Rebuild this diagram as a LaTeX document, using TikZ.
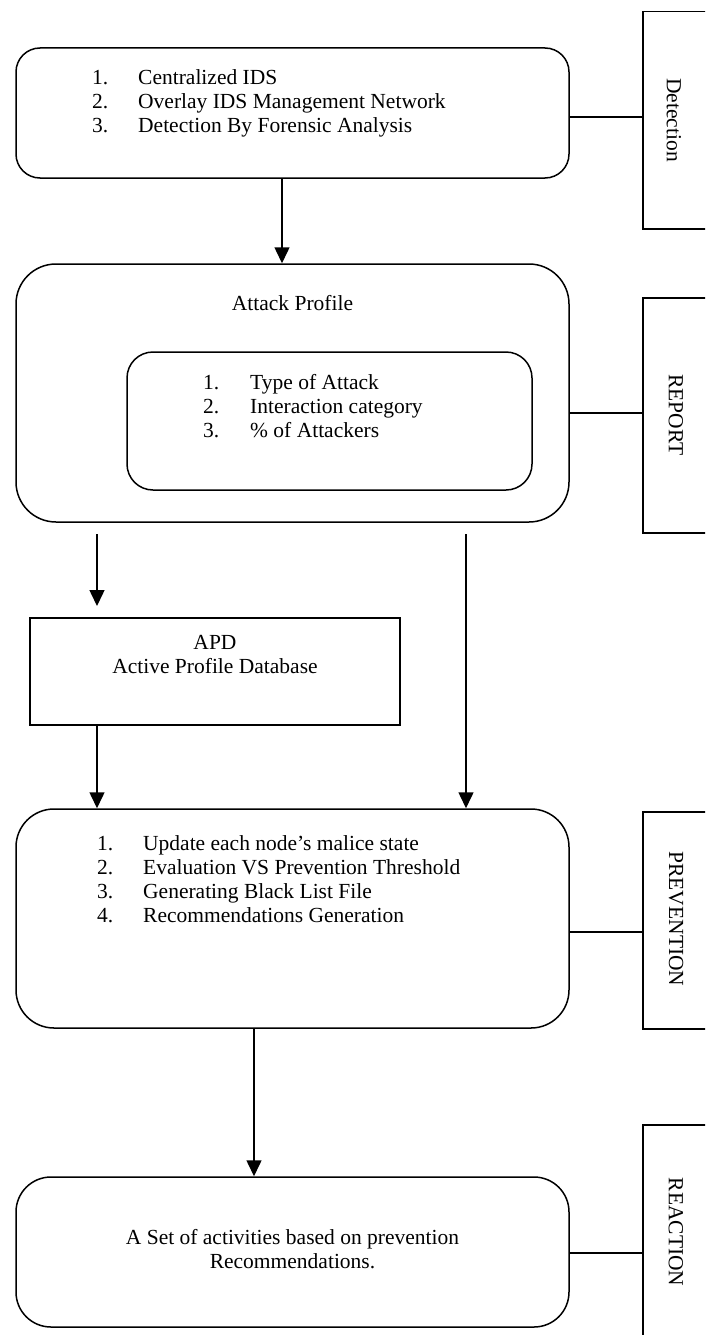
\documentclass[tikz,border=0pt]{standalone}
\usepackage{fontspec}
\setmainfont{Liberation Serif}
\usetikzlibrary{arrows.meta}
\begin{document}
\begin{tikzpicture}[x=1pt,y=-1pt,
  every node/.style={font=\fontsize{21.5}{24}\selectfont},
  rbox/.style={draw,line width=1.5pt,rounded corners=#1,inner sep=0pt},
  sbox/.style={draw,line width=1.5pt,inner sep=0pt,anchor=north west,minimum width=100pt},
  txt/.style={inner sep=0pt},
  link/.style={line width=1.5pt},
  arr/.style={line width=1.5pt,-{Triangle[width=15pt,length=16pt]}}]
\clip (0,0) rectangle (705,1335);
\fill[white] (0,0) rectangle (705,1335);
% main boxes
\node[rbox=24pt,minimum width=553pt,minimum height=130pt] (b1) at (292.5,113) {};
\node[rbox=40pt,minimum width=553pt,minimum height=258pt] (b2) at (292.5,393) {};
\node[rbox=26pt,minimum width=405pt,minimum height=138pt] (b2in) at (329.5,421) {};
\node[draw,line width=1.5pt,inner sep=0pt,minimum width=370pt,minimum height=107pt] (apd) at (215,671.5) {};
\node[rbox=38pt,minimum width=553pt,minimum height=219pt] (b4) at (292.5,918.5) {};
\node[rbox=35pt,minimum width=553pt,minimum height=150pt] (b5) at (292.5,1252) {};
% texts
\node[txt,anchor=west] (t1) at (92,104) {\begin{tabular}{@{}p{46pt}@{}l@{}}1. & Centralized IDS\\ 2. & Overlay IDS Management Network\\ 3. & Detection By Forensic Analysis\end{tabular}};
\node[txt] (t2) at (292.5,303) {Attack Profile};
\node[txt,anchor=west] (t3) at (203,409) {\begin{tabular}{@{}p{47pt}@{}l@{}}1. & Type of Attack\\ 2. & Interaction category\\ 3. & \% of Attackers\end{tabular}};
\node[txt,align=center] (t4) at (215,655) {APD\\Active Profile Database};
\node[txt,anchor=west] (t5) at (97,882) {\begin{tabular}{@{}p{46pt}@{}l@{}}1. & Update each node's malice state\\ 2. & Evaluation VS Prevention Threshold\\ 3. & Generating Black List File\\ 4. & Recommendations Generation\end{tabular}};
\node[txt,align=center] (t6) at (292.5,1249) {A Set of activities based on prevention\\Recommendations.};
% side boxes
\node[sbox,minimum height=217pt] (sd) at (642,11) {};
\node[sbox,minimum height=235pt] (sr) at (642,297) {};
\node[sbox,minimum height=217pt] (sp) at (642,811) {};
\node[sbox,minimum height=240pt] (sx) at (642,1124) {};
\node[txt,rotate=-90] (ld) at (674,120) {Detection};
\node[txt,rotate=-90] (lr) at (676,415) {REPORT};
\node[txt,rotate=-90] (lp) at (676,919) {PREVENTION};
\node[txt,rotate=-90] (lx) at (676,1232) {REACTION};
% side connectors
\coordinate (y1) at (0,117);
\coordinate (y2) at (0,413);
\coordinate (y3) at (0,932);
\coordinate (y4) at (0,1253);
\draw[link] (b1.east |- y1) -- (sd.west |- y1);
\draw[link] (b2.east |- y2) -- (sr.west |- y2);
\draw[link] (b4.east |- y3) -- (sp.west |- y3);
\draw[link] (b5.east |- y4) -- (sx.west |- y4);
% arrows
\coordinate (xa) at (282,0);
\coordinate (xb) at (97,0);
\coordinate (xc) at (466,0);
\coordinate (xd) at (254,0);
\coordinate (s1) at (97,534);
\coordinate (e1) at (97,606);
\coordinate (s2) at (466,534);
\draw[arr] (b1.south -| xa) -- (b2.north -| xa);
\draw[arr] (s1) -- (e1);
\draw[arr] (apd.south -| xb) -- (b4.north -| xb);
\draw[arr] (s2) -- (b4.north -| xc);
\draw[arr] (b4.south -| xd) -- (b5.north -| xd);
\end{tikzpicture}
\end{document}
